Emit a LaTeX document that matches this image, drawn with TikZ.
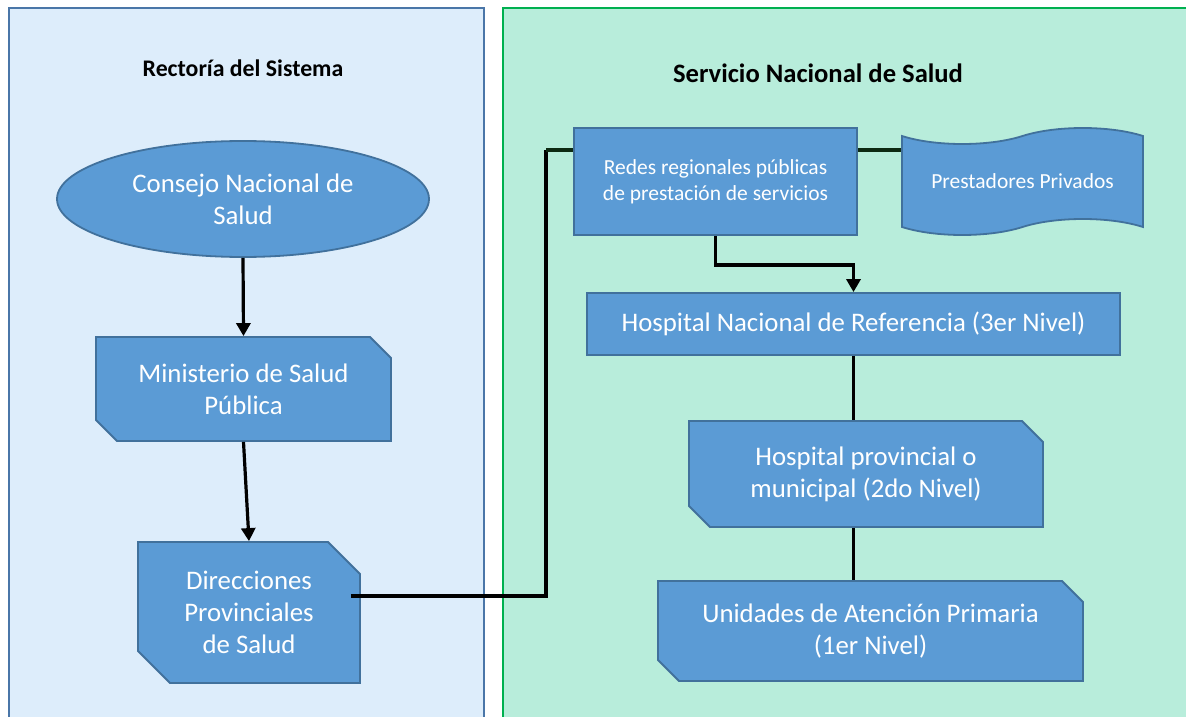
\documentclass[tikz,border=0pt]{standalone}
\usepackage{fontspec}
\setmainfont{Carlito}
\usepackage{tikz}
\usetikzlibrary{arrows.meta,positioning,calc,shapes.geometric,shapes.misc,shapes.symbols}
\definecolor{boxblue}{HTML}{5B9BD5}
\definecolor{boxedge}{HTML}{41719C}
\definecolor{leftfill}{HTML}{DDEDFB}
\definecolor{leftedge}{HTML}{4A76A8}
\definecolor{rightfill}{HTML}{B8EDDB}
\definecolor{rightedge}{HTML}{00B050}
\definecolor{darkline}{HTML}{0D2A12}

\begin{document}
\begin{tikzpicture}[x=1pt,y=-1pt,
    bluebox/.style={draw=boxedge,fill=boxblue,line width=1.8pt,text=white,align=center,
                    inner sep=2pt,font=\fontsize{26.8}{32}\selectfont},
    cutbox/.style={bluebox,chamfered rectangle,chamfered rectangle corners={north east,south west},
                   chamfered rectangle xsep=10.5pt,chamfered rectangle ysep=10.5pt},
    link/.style={line width=3.2pt},
    arrow/.style={link,-{Triangle[length=13pt,width=14pt]}}]
  \useasboundingbox (0,0) rectangle (1186,717);
  % panels
  \draw[leftedge,fill=leftfill,line width=1.8pt] (9,8) rectangle (484,720);
  \draw[rightedge,fill=rightfill,line width=1.8pt] (503,8) rectangle (1190,720);
  \node[font=\bfseries\fontsize{23.8}{28}\selectfont] (rect) at (243,68) {Rectoría del Sistema};
  \node[font=\bfseries\fontsize{26.6}{32}\selectfont] (serv) at (818,73) {Servicio Nacional de Salud};

  % rectoria
  \node[bluebox,ellipse,minimum width=372pt,minimum height=116pt] (cons) at (243,199)
       {Consejo Nacional de\\Salud};
  \node[cutbox,minimum width=295pt,minimum height=104pt] (min) at (243.5,389)
       {Ministerio de Salud\\Pública};
  \node[cutbox,minimum width=222pt,minimum height=141pt,chamfered rectangle xsep=16pt,
        chamfered rectangle ysep=16pt] (dir) at (249,612.5)
       {Direcciones\\Provinciales\\de Salud};

  % servicio
  \node[bluebox,rectangle,minimum width=283pt,minimum height=107pt,
        font=\fontsize{21.5}{26}\selectfont] (redes) at (715.5,181.5)
       {Redes regionales públicas\\de prestación de servicios};
  \node[bluebox,tape,tape bend top=in and out,tape bend bottom=in and out,tape bend height=16pt,
        minimum width=241pt,minimum height=107pt,font=\fontsize{21.5}{26}\selectfont] (priv)
       at (1022.5,181.5) {Prestadores Privados};
  \node[bluebox,rectangle,minimum width=533pt,minimum height=62pt] (hnac) at (853.5,324)
       {Hospital Nacional de Referencia (3er Nivel)};
  \node[cutbox,minimum width=354pt,minimum height=106pt] (hprov) at (866,474)
       {Hospital provincial o\\municipal (2do Nivel)};
  \node[cutbox,minimum width=425pt,minimum height=100pt] (unid) at (870.5,631)
       {Unidades de Atención Primaria\\(1er Nivel)};

  % connectors
  \draw[arrow] (cons.south) -- (min.north);
  \draw[arrow] (min.south) -- (dir.north);
  \coordinate (bend) at (546,150);
  \draw[link] ([xshift=-10pt,yshift=16.5pt]dir.east) -| (bend);
  \draw[link,darkline] (bend) -- (bend -| redes.west);
  \draw[link,darkline] ([yshift=31.5pt]redes.east) -- ([yshift=31.5pt]redes.east -| priv.west);
  \draw[arrow] (redes.south) -- ++(0,29) -| (hnac.north);
  \draw[link] (hnac.south) -- (hnac.south |- hprov.north);
  \draw[link] (hnac.south |- hprov.south) -- (hnac.south |- unid.north);
\end{tikzpicture}
\end{document}
